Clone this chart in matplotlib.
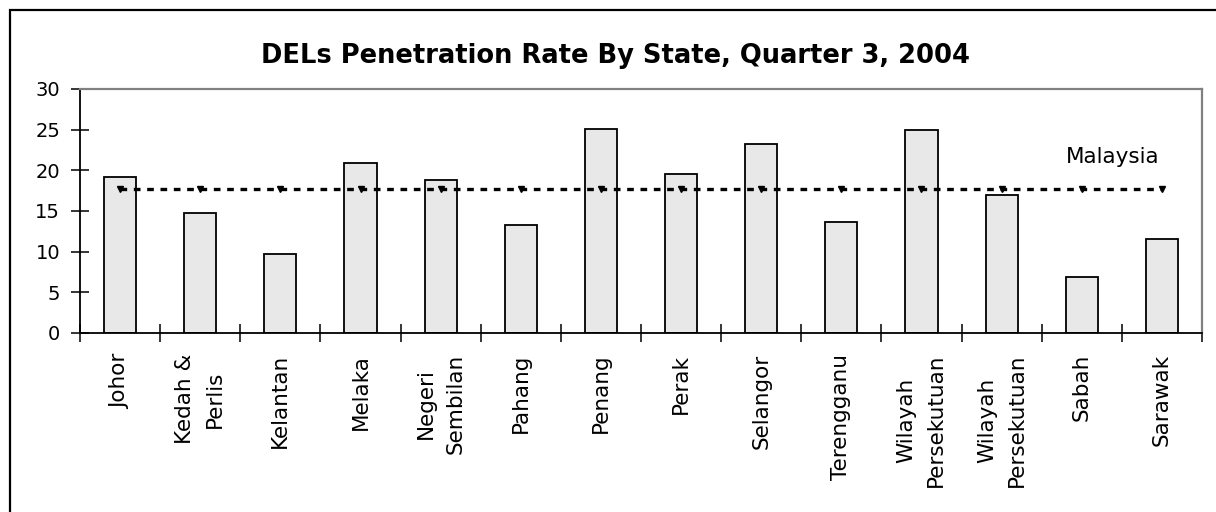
import numpy as np
import matplotlib.pyplot as plt
from matplotlib.patches import Rectangle
from matplotlib.ticker import FixedLocator

plt.rcParams['font.family'] = ['DejaVu Sans']

states = ["Johor", "Kedah &\nPerlis", "Kelantan", "Melaka", "Negeri\nSembilan",
          "Pahang", "Penang", "Perak", "Selangor", "Terengganu",
          "Wilayah\nPersekutuan", "Wilayah\nPersekutuan", "Sabah", "Sarawak"]
rates = [19.2, 14.8, 9.7, 20.9, 18.8, 13.3, 25.1, 19.5, 23.2, 13.6, 24.9, 17.0, 6.9, 11.6]
malaysia = [17.7, 17.7, 17.7, 17.7, 17.7, 17.7, 17.7, 17.7, 17.7, 17.7, 17.7, 17.7, 17.7, 17.7]
yticks = [0, 5, 10, 15, 20, 25, 30]

x = np.arange(len(states))

fig = plt.figure(figsize=(12.16, 5.12), dpi=100)
ax = fig.add_axes([80/1216, 1-333/512, 1122/1216, 244/512])

ax.bar(x, rates, width=0.4, color="#e8e8e8", edgecolor="black", linewidth=1.3, zorder=2)
ax.plot(x, malaysia, color="black", linewidth=2.4, linestyle=(0, (2.0, 2.0)),
        marker="v", markersize=4.5, zorder=3)
ax.text(11.8, 20.9, "Malaysia", fontsize=15.5, ha="left", va="baseline")

ax.set_xlim(-0.5, len(states) - 0.5)
ax.set_ylim(0, 30)
ax.set_yticks(yticks)
ax.tick_params(axis="y", direction="inout", length=13.5, width=1.1, pad=7.5, labelsize=14)

# labels sit at the centres, tick marks sit between categories
ax.set_xticks(x)
ax.set_xticklabels(states, rotation=90, fontsize=15.5, multialignment="center", linespacing=1.6)
ax.tick_params(axis="x", which="major", length=0, pad=15)
ax.xaxis.set_minor_locator(FixedLocator(np.arange(-0.5, len(states), 1.0)))
ax.tick_params(axis="x", which="minor", direction="inout", length=13.5, width=1.1)

for s in ["left", "bottom"]:
    ax.spines[s].set_color("black")
    ax.spines[s].set_linewidth(1.3)
for s in ["top", "right"]:
    ax.spines[s].set_color("#808080")
    ax.spines[s].set_linewidth(1.6)

fig.text(615/1216, 1-62.7/512, "DELs Penetration Rate By State, Quarter 3, 2004",
         fontsize=18.5, fontweight="bold", ha="center", va="baseline")

# outer chart frame (only its left and top edges fall inside the picture)
fig.patches.append(Rectangle((10/1216, -0.2), 1.2, 1.2 - 10/512, transform=fig.transFigure,
                             fill=False, edgecolor="black", linewidth=1.6))

plt.savefig("out.png", dpi=100)
